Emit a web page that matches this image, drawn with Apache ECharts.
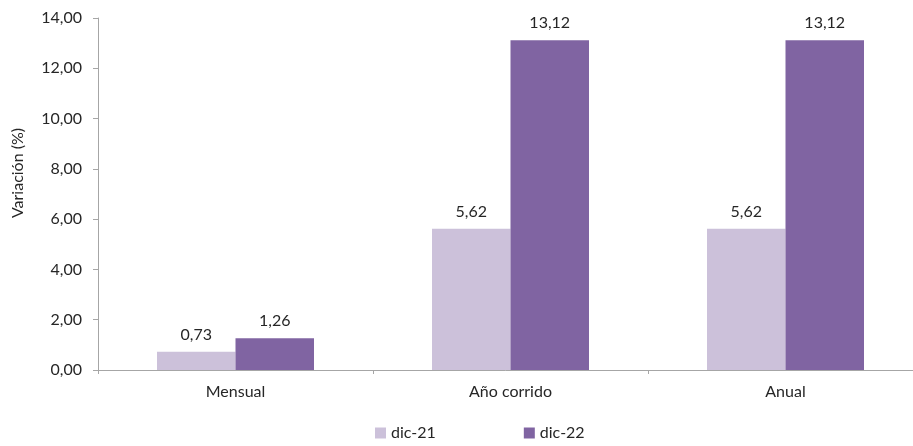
<!DOCTYPE html>
<html><head><meta charset="utf-8">
<script src="https://cdn.jsdelivr.net/npm/echarts@6/dist/echarts.min.js"></script>
<style>html,body{margin:0;padding:0;background:#fff}#c{width:913px;height:446px}</style>
</head><body><div id="c"></div>
<script>
const categories = ['Mensual', 'Año corrido', 'Anual'];
const dic21 = [0.73, 5.62, 5.62];
const dic22 = [1.26, 13.12, 13.12];
const seriesNames = ['dic-21', 'dic-22'];
const yTitle = 'Variación (%)';

const fmt = v => v.toFixed(2).replace('.', ',');
const font = 'Lato, "Open Sans", sans-serif';
const chart = echarts.init(document.getElementById('c'));
const lbl = {show: true, position: 'top', distance: 9, color: '#262626', fontSize: 16, fontFamily: font,
  formatter: p => fmt(p.value)};
chart.setOption({
  animation: false,
  textStyle: {fontFamily: font},
  grid: {left: 98, width: 825, top: 18, bottom: 76, containLabel: false, outerBoundsMode: 'none'},
  legend: {bottom: 0, left: 370, itemWidth: 11, itemHeight: 11, itemGap: 88,
    icon: 'rect', textStyle: {fontSize: 16, color: '#262626', fontFamily: font},
    data: seriesNames},
  xAxis: {type: 'category', data: categories,
    axisLine: {lineStyle: {color: '#a6a6a6', width: 1}},
    axisTick: {show: true, length: 4, lineStyle: {color: '#a6a6a6'}},
    axisLabel: {color: '#262626', fontSize: 16, margin: 14, fontFamily: font}},
  yAxis: {type: 'value', min: 0, max: 14, interval: 2,
    axisLine: {show: true, lineStyle: {color: '#a6a6a6', width: 1}},
    axisTick: {show: true, length: 5, lineStyle: {color: '#a6a6a6'}},
    splitLine: {show: false},
    axisLabel: {color: '#262626', fontSize: 16, margin: 16, fontFamily: font, formatter: v => fmt(v)}},
  graphic: [{type: 'text', x: 18, y: 173, rotation: Math.PI / 2,
    style: {text: yTitle, fill: '#262626', fontSize: 16, fontFamily: font,
      textAlign: 'center', textVerticalAlign: 'middle'}}],
  series: [
    {name: seriesNames[0], type: 'bar', data: dic21, barWidth: 78.5, barGap: '0%',
      itemStyle: {color: '#ccc1da'}, label: lbl},
    {name: seriesNames[1], type: 'bar', data: dic22, barWidth: 78.5, barGap: '0%',
      itemStyle: {color: '#8064a2'}, label: lbl}
  ]
});
</script></body></html>
